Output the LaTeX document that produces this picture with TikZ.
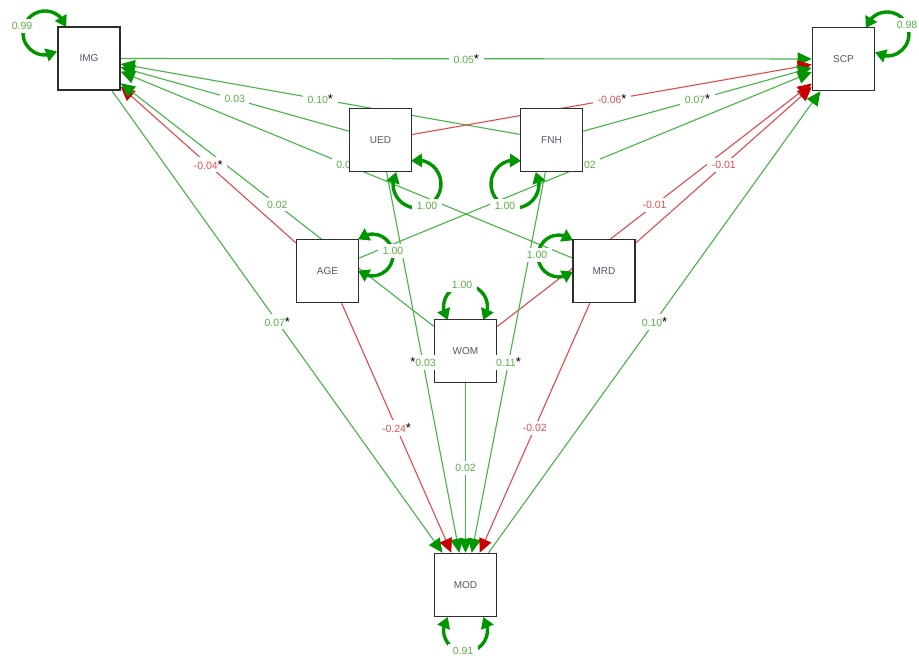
\documentclass[tikz,border=0pt]{standalone}
\usepackage{fontspec}
\setmainfont{Liberation Sans}
\usetikzlibrary{arrows.meta,bending,calc}
\definecolor{gline}{RGB}{70,180,70}
\definecolor{gtip}{RGB}{0,150,0}
\definecolor{rline}{RGB}{225,75,75}
\definecolor{rtip}{RGB}{200,0,0}
\definecolor{glabc}{RGB}{90,175,70}
\definecolor{rlabc}{RGB}{225,80,80}
\definecolor{boxc}{RGB}{45,45,45}
\definecolor{namec}{RGB}{85,85,105}
\definecolor{loopc}{RGB}{0,150,0}
\pgfdeclarelayer{edges}
\pgfdeclarelayer{labels}
\pgfdeclarelayer{front}
\pgfsetlayers{edges,labels,main,front}
\tikzset{
  var/.style={draw=boxc, line width=1.6pt, fill=white, minimum width=62pt, minimum height=63pt, inner sep=0pt, font=\fontsize{10}{12}\selectfont, text=namec},
  gedge/.style={draw=gline, line width=1.1pt, -{Triangle[length=14pt,width=13pt,color=gtip]}},
  redge/.style={draw=rline, line width=1.1pt, -{Triangle[length=14pt,width=13pt,color=rtip]}},
  vloop/.style={draw=loopc, line width=3.4pt, {Triangle[length=11pt,width=13pt]}-{Triangle[length=11pt,width=13pt]}},
  lab/.style={fill=white, inner xsep=4.5pt, inner ysep=3pt, font=\fontsize{10.5}{12}\selectfont},
  glab/.style={lab, text=glabc},
  rlab/.style={lab, text=rlabc},
}
\newcommand{\st}{\textcolor{black}{\fontsize{13}{13}\selectfont *}}
\begin{document}
\begin{tikzpicture}[x=1pt,y=-1pt]
\useasboundingbox (0,0) rectangle (919,658);
% boxes
\node[var] (IMG) at (89,58.5) {IMG};
\node[var] (SCP) at (843.5,59) {SCP};
\node[var] (UED) at (380.5,140) {UED};
\node[var] (FNH) at (551.5,140) {FNH};
\node[var] (AGE) at (327.5,271) {AGE};
\node[var] (MRD) at (604,271) {MRD};
\node[var] (WOM) at (465.5,351) {WOM};
\node[var] (MOD) at (465.5,585) {MOD};
\begin{pgfonlayer}{edges}
\fill[white] (0,0) rectangle (919,658);
\draw[gedge] (IMG) -- (SCP);
\draw[gedge] (UED) -- (IMG);
\draw[gedge] (FNH) -- (IMG);
\draw[gedge] (MRD) -- (IMG);
\draw[redge] (AGE) -- (IMG);
\draw[gedge] (WOM) -- (IMG);
\draw[gedge] (IMG) -- (MOD);
\draw[redge] (UED) -- (SCP);
\draw[gedge] (FNH) -- (SCP);
\draw[gedge] (AGE) -- (SCP);
\draw[redge] (MRD) -- (SCP);
\draw[redge] (WOM) -- (SCP);
\draw[gedge] (MOD) -- (SCP);
\draw[gedge] (UED) -- (MOD);
\draw[gedge] (FNH) -- (MOD);
\draw[redge] (AGE) -- (MOD);
\draw[redge] (MRD) -- (MOD);
\draw[gedge] (WOM) -- (MOD);
% variance loops
\draw[vloop] ($(45,33)+(-15.8:22)$) arc[start angle=-15.8, end angle=-303.1, radius=22];
\draw[vloop] ($(887,34)+(195.8:22)$) arc[start angle=195.8, end angle=483.1, radius=22];
\draw[vloop] ($(465.5,630)+(-36.2:22)$) arc[start angle=-36.2, end angle=216.2, radius=22];
\draw[vloop] ($(465.5,307)+(36.2:22)$) arc[start angle=36.2, end angle=-216.2, radius=22];
\draw[vloop] ($(372,255)+(-131.8:21)$) arc[start angle=-131.8, end angle=131.8, radius=21];
\draw[vloop] ($(559,256)+(-48.2:21)$) arc[start angle=-48.2, end angle=-311.8, radius=21];
\draw[vloop] ($(417,184)+(-150:24)$) arc[start angle=-150, end angle=-464.5, radius=24];
\draw[vloop] ($(515,184)+(-30:24)$) arc[start angle=-30, end angle=284.5, radius=24];
\end{pgfonlayer}
\begin{pgfonlayer}{labels}
\node[glab] (l1) at ($(IMG)!.5!(SCP)$) {0.05\st};
\node[glab] (l2) at ($(UED)!.5!(IMG)$) {0.03};
\node[glab] (l3) at ($(FNH)!.5!(IMG)$) {0.10\st};
\node[glab] (l4) at ($(MRD)!.5!(IMG)$) {0.0\phantom{0}};
\node[rlab] (l5) at ($(AGE)!.5!(IMG)$) {-0.04\st};
\node[glab] (l6) at ($(WOM)!.5!(IMG)$) {0.02};
\node[glab] (l7) at ($(IMG)!.5!(MOD)$) {0.07\st};
\node[rlab] (l8) at ($(UED)!.5!(SCP)$) {-0.06\st};
\node[glab] (l9) at ($(FNH)!.5!(SCP)$) {0.07\st};
\node[glab] (l10) at ($(AGE)!.5!(SCP)$) {\phantom{0.}02};
\node[rlab] (l11) at ($(MRD)!.5!(SCP)$) {-0.01};
\node[rlab] (l12) at ($(WOM)!.5!(SCP)$) {-0.01};
\node[glab] (l13) at ($(MOD)!.5!(SCP)$) {0.10\st};
\node[rlab] (l16) at ($(AGE)!.5!(MOD)$) {-0.24\st};
\node[rlab] (l17) at ($(MRD)!.5!(MOD)$) {-0.02};
\node[glab] (l18) at ($(WOM)!.5!(MOD)$) {0.02};
% loop labels
\node[glab] (v1) at (22,26) {0.99};
\node[glab] (v2) at (907,25) {0.98};
\node[glab] (v3) at (463,651) {0.91};
\node[glab] (v4) at (462,285) {1.00};
\node[glab] (v5) at (393,251) {1.00};
\node[glab] (v6) at (537,255) {1.00};
\node[glab] (v7) at (427,206) {1.00};
\node[glab] (v8) at (505,206) {1.00};
\end{pgfonlayer}
\begin{pgfonlayer}{front}
\node[glab] (l14) at ($(UED)!.5!(MOD)$) {\st0.03};
\node[glab] (l15) at ($(FNH)!.5!(MOD)$) {0.11\st};
\end{pgfonlayer}
\end{tikzpicture}
\end{document}
